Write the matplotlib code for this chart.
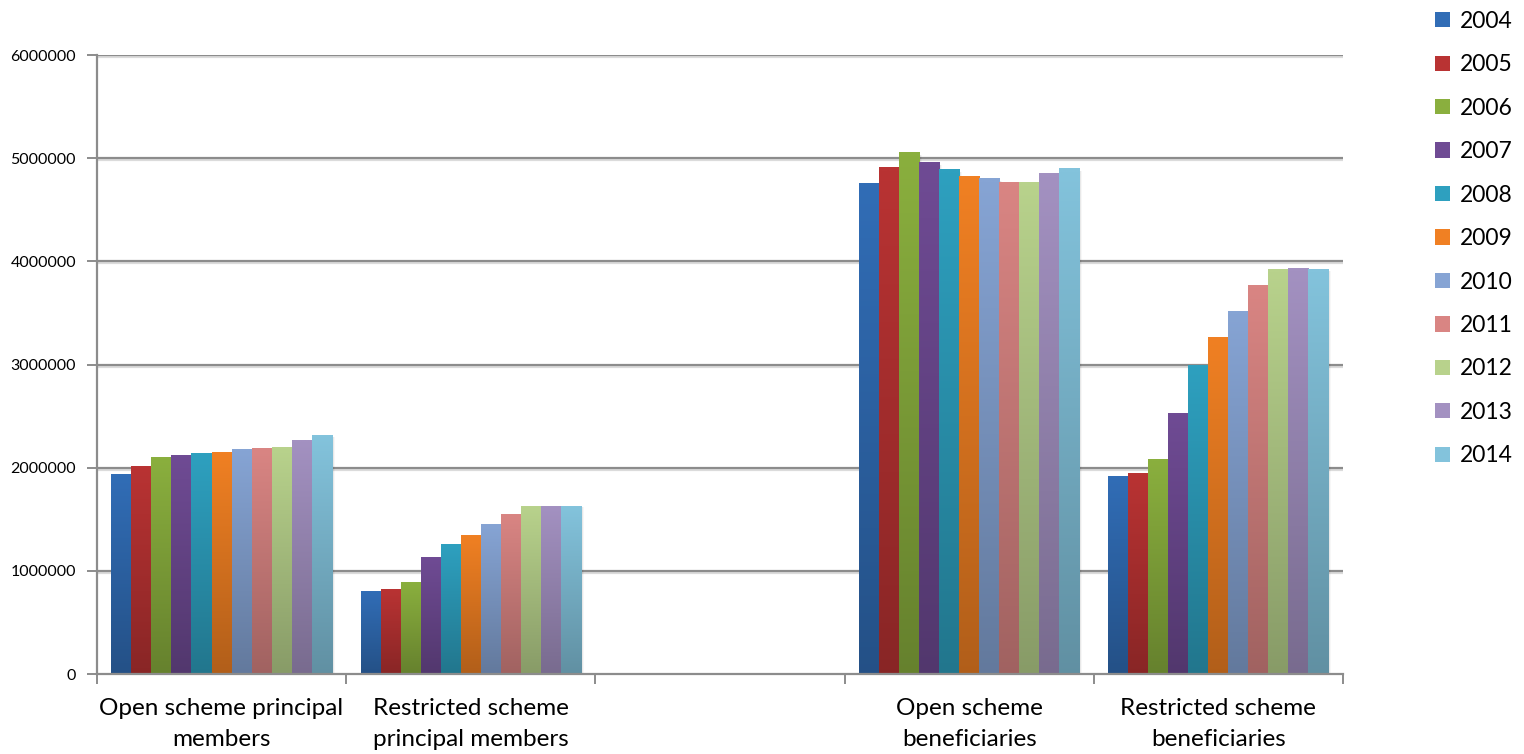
import numpy as np
import matplotlib
matplotlib.use("Agg")
import matplotlib.pyplot as plt
import matplotlib.patheffects as pe
from matplotlib.patches import Patch, Rectangle
from matplotlib.colors import to_rgb

# ---- data ----
categories = [
    "Open scheme principal\nmembers",
    "Restricted scheme\nprincipal members",
    "",
    "Open scheme\nbeneficiaries",
    "Restricted scheme\nbeneficiaries",
]
years = ["2004", "2005", "2006", "2007", "2008", "2009",
         "2010", "2011", "2012", "2013", "2014"]

open_principal = [1930000, 2015000, 2100000, 2120000, 2140000, 2150000,
                  2180000, 2190000, 2200000, 2260000, 2310000]
restricted_principal = [795000, 815000, 890000, 1125000, 1260000, 1347000,
                        1445000, 1550000, 1628000, 1628000, 1628000]
empty_group = [0] * 11
open_beneficiaries = [4758000, 4913000, 5058000, 4961000, 4893000, 4826000,
                      4806000, 4767000, 4767000, 4855000, 4903000]
restricted_beneficiaries = [1910000, 1940000, 2080000, 2530000, 2994000, 3266000,
                            3517000, 3769000, 3924000, 3934000, 3924000]

groups = [open_principal, restricted_principal, empty_group,
          open_beneficiaries, restricted_beneficiaries]

# top (light) colour of each series; bars fade to a darker shade at the base
series_colors = ["#316db6", "#b93333", "#8aaf3e", "#6f4b94", "#2ea0bf",
                 "#f08023", "#86a4d4", "#d98583", "#b8d28c", "#a391c1",
                 "#83c3dc"]

y_ticks = [0, 1000000, 2000000, 3000000, 4000000, 5000000, 6000000]

# ---- figure ----
plt.rcParams['font.family'] = ['Lato', 'DejaVu Sans']
fig = plt.figure(figsize=(15.24, 7.54), dpi=100)
ax = fig.add_axes([0.0636, 0.1061, 0.8176, 0.8209])

n_series = len(years)
group_width = 0.884
bar_w = group_width / n_series


def gradient_bar(ax, x0, width, height, color):
    top = np.array(to_rgb(color))
    bottom = top * 0.74
    t = np.linspace(0, 1, 64)[:, None]
    img = bottom[None, :] * (1 - t) + top[None, :] * t
    img = img[:, None, :]
    # soft shadow on the right-hand side
    for k, a in enumerate([0.10, 0.06, 0.03]):
        ax.add_patch(Rectangle((x0 + width, 0), 0.004 * (k + 1), height * 0.995,
                               color="black", alpha=a, lw=0, zorder=2.5))
    ax.imshow(img, extent=[x0, x0 + width, 0, height], origin="lower",
              aspect="auto", interpolation="bilinear", zorder=3)


for gi, vals in enumerate(groups):
    start = gi + 0.5 - group_width / 2
    for si, v in enumerate(vals):
        if v <= 0:
            continue
        gradient_bar(ax, start + si * bar_w, bar_w, v, series_colors[si])

ax.set_xlim(0, len(categories))
ax.set_ylim(0, 6000000)

# gridlines with a faint drop shadow
for yv in y_ticks[1:]:
    ax.axhline(yv, color="#8c8c8c", lw=1.6, zorder=1,
               path_effects=[pe.SimpleLineShadow(offset=(0, -1.5),
                                                 shadow_color="#999999",
                                                 alpha=0.35),
                             pe.Normal()])

for side in ["top", "right"]:
    ax.spines[side].set_visible(False)
ax.spines["left"].set_color("#8c8c8c")
ax.spines["left"].set_linewidth(1.6)
ax.spines["bottom"].set_color("#8c8c8c")
ax.spines["bottom"].set_linewidth(1.6)
ax.spines["bottom"].set_zorder(4)

ax.set_yticks(y_ticks)
ax.set_yticklabels([str(v) for v in y_ticks], fontsize=11.5)
ax.tick_params(axis="y", length=7, width=1.4, color="#8c8c8c", pad=8)

ax.set_xticks(range(len(categories) + 1))
ax.set_xticklabels([])
ax.tick_params(axis="x", which="major", length=7, width=1.4, color="#8c8c8c")
ax.set_xticks([i + 0.5 for i in range(len(categories))], minor=True)
ax.set_xticklabels(categories, minor=True, fontsize=17.5, linespacing=1.6)
ax.tick_params(axis="x", which="minor", length=0, pad=17)

handles = [Patch(facecolor=c, edgecolor="none") for c in series_colors]
fig.legend(handles, years, loc="upper left", bbox_to_anchor=(0.931, 1.007),
           frameon=False, fontsize=16.5, handlelength=0.65, handleheight=0.65,
           handletextpad=0.45, labelspacing=0.98, borderaxespad=0.3)

fig.savefig("out.png", dpi=100, facecolor="white")
